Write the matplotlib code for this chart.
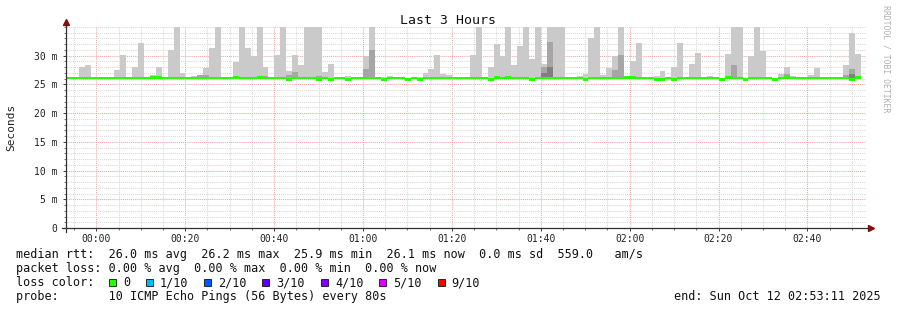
import numpy as np
import matplotlib.pyplot as plt
from matplotlib.patches import Rectangle
from matplotlib.ticker import MultipleLocator

plt.rcParams['font.family'] = ['DejaVu Sans Mono', 'DejaVu Sans']

# one step = 80 s, time in minutes from 00:00
step_min = 80 / 60
first_step = -6.6
t_start, t_end = -6.8167, 173.1833

# top of the light smoke (ms), one value per step
smoke_top = [
    26.1, 26.3, 28.1, 28.3, 26.1, 26.2, 26.2, 26.1, 27.5, 30.2,
    26.1, 28.1, 32.3, 26.1, 26.6, 28.1, 26.2, 31.0, 35.0, 27.0,
    26.2, 26.4, 26.7, 27.8, 31.3, 35.0, 26.1, 26.2, 28.9, 35.0,
    31.4, 29.9, 35.0, 28.1, 26.1, 30.1, 35.0, 27.4, 30.1, 28.3,
    35.0, 35.0, 35.0, 27.1, 28.5, 26.1, 26.1, 26.5, 26.1, 26.2,
    29.9, 35.0, 26.1, 26.3, 26.5, 26.1, 26.1, 26.2, 26.3, 26.3,
    27.0, 27.6, 30.2, 26.9, 26.7, 26.3, 26.3, 26.1, 30.2, 35.0,
    26.2, 28.0, 32.1, 29.9, 35.0, 28.3, 31.7, 35.0, 29.5, 35.0,
    28.6, 35.0, 35.0, 35.0, 26.1, 26.1, 26.5, 26.9, 33.1, 35.0,
    26.7, 27.8, 29.9, 35.0, 26.2, 29.1, 32.3, 26.1, 26.1, 26.5,
    27.4, 26.1, 28.1, 32.3, 26.1, 28.5, 30.5, 26.1, 26.4, 26.1,
    26.1, 30.3, 35.0, 35.0, 26.1, 29.9, 35.0, 30.9, 26.2, 26.1,
    26.9, 28.1, 26.5, 26.1, 26.1, 26.7, 27.8, 26.1, 26.1, 26.1,
    26.3, 28.3, 33.9, 30.3,
]

# median rtt (ms), one value per step
median_rtt = [
    26.1, 26.1, 26.1, 26.1, 26.1, 26.1, 26.1, 26.1, 26.1, 26.1,
    26.1, 26.1, 26.1, 26.1, 26.2, 26.2, 26.1, 26.1, 26.1, 26.1,
    26.1, 26.1, 26.1, 26.1, 26.1, 26.1, 26.1, 26.1, 26.2, 26.1,
    26.1, 26.1, 26.2, 26.1, 26.1, 26.1, 26.1, 25.9, 26.1, 26.1,
    26.1, 26.1, 25.9, 26.1, 25.9, 26.1, 26.1, 25.9, 26.1, 26.1,
    26.1, 26.1, 26.1, 25.9, 26.1, 26.1, 26.1, 25.9, 26.1, 25.9,
    26.1, 26.1, 26.1, 26.1, 26.1, 26.1, 26.1, 26.1, 26.1, 26.1,
    26.1, 25.9, 26.2, 26.1, 26.2, 26.1, 26.1, 26.1, 25.9, 26.1,
    26.1, 26.1, 26.1, 26.1, 26.1, 26.1, 26.1, 25.9, 26.1, 26.1,
    26.1, 26.1, 26.1, 26.1, 26.2, 26.2, 26.1, 26.1, 26.1, 25.9,
    25.9, 26.1, 25.9, 26.1, 26.1, 26.1, 26.1, 26.1, 26.1, 26.1,
    25.9, 26.2, 26.1, 26.1, 25.9, 26.1, 26.1, 26.1, 26.1, 25.9,
    26.1, 26.2, 26.1, 26.1, 26.1, 26.1, 26.1, 26.1, 26.1, 26.1,
    26.1, 26.1, 25.9, 26.2,
]

# darker smoke (more pings up there)
mid_steps = [22, 23, 33, 37, 38, 42, 50, 51, 80, 81, 92, 93, 112, 121, 131, 132]
mid_tops = [26.6, 26.6, 26.5, 26.6, 27.2, 26.4, 27.7, 31.0, 28.0, 32.4, 27.5, 30.1, 28.4, 26.9, 26.6, 27.6]
dark_steps = [80, 81, 132]
dark_tops = [27.0, 28.1, 26.8]

x_ticks = [0, 20, 40, 60, 80, 100, 120, 140, 160]
x_labels = ['00:00', '00:20', '00:40', '01:00', '01:20', '01:40', '02:00', '02:20', '02:40']
y_ticks = [0, 5, 10, 15, 20, 25, 30]
y_labels = ['0', '5 m', '10 m', '15 m', '20 m', '25 m', '30 m']

loss_labels = ['0', '1/10', '2/10', '3/10', '4/10', '5/10', '9/10']
loss_colors = ['#26ff00', '#00b8ff', '#0059ff', '#5e00ff', '#7e00ff', '#dd00ff', '#ff0000']

W, H = 897, 310
fig = plt.figure(figsize=(W / 100, H / 100), dpi=100)
fig.patch.set_facecolor('white')
ax = fig.add_axes([66 / W, 82 / H, 800 / W, 201 / H])

n = len(smoke_top)
edges = first_step + step_min * np.arange(n + 1)
top = np.append(smoke_top, smoke_top[-1])
med = np.append(median_rtt, median_rtt[-1])

# smoke
ax.fill_between(edges, med, top, step='post', color='#cacaca', linewidth=0, zorder=2)
for i, v in zip(mid_steps, mid_tops):
    ax.bar(edges[i], v - median_rtt[i], bottom=median_rtt[i], width=step_min,
           align='edge', color='#a6a6a6', linewidth=0, zorder=3)
for i, v in zip(dark_steps, dark_tops):
    ax.bar(edges[i], v - median_rtt[i], bottom=median_rtt[i], width=step_min,
           align='edge', color='#808080', linewidth=0, zorder=4)

# median line, coloured by loss (all 0 here)
ax.fill_between(edges, med - 0.22, med + 0.22, step='post', color=loss_colors[0],
                linewidth=0, zorder=5)

ax.set_xlim(t_start, t_end)
ax.set_ylim(0, 35)
ax.set_xticks(x_ticks, x_labels)
ax.set_yticks(y_ticks, y_labels)
ax.xaxis.set_minor_locator(MultipleLocator(5))
ax.yaxis.set_minor_locator(MultipleLocator(1))
ax.tick_params(which='major', length=2.2, width=0.7, color='#404040',
               labelsize=7, labelcolor='#222222')
ax.tick_params(axis='x', which='major', pad=2)
ax.tick_params(axis='y', which='major', pad=4)
ax.tick_params(which='minor', length=1.2, width=0.6, color='#606060')

ax.set_axisbelow(True)
ax.grid(which='minor', color='#d8d8d8', linestyle=(0, (1, 1)), linewidth=0.75)
ax.grid(which='major', color='#f2a4a4', linestyle=(0, (1, 1)), linewidth=0.75)
for s in ax.spines.values():
    s.set_visible(False)

# axes with arrows
ax.plot([-4 / 800, 1 + 3 / 800], [0, 0], transform=ax.transAxes, color='#303030',
        lw=0.9, clip_on=False, zorder=6)
ax.plot([0, 0], [-4 / 201, 1 + 4 / 201], transform=ax.transAxes, color='#303030',
        lw=0.9, clip_on=False, zorder=6)
ax.plot([0], [1 + 5 / 201], marker='^', ms=5, color='#7a1010', transform=ax.transAxes,
        clip_on=False, zorder=7)
ax.plot([1 + 5 / 800], [0], marker='>', ms=5, color='#7a1010', transform=ax.transAxes,
        clip_on=False, zorder=7)


def fx(x):
    return x / W


def fy(y):
    return 1 - y / H


fig.text(fx(448), fy(20), 'Last 3 Hours', ha='center', va='center', fontsize=9.5, color='#111111')
fig.text(fx(11), fy(127), 'Seconds', ha='center', va='center', rotation=90, fontsize=8, color='#222222')
fig.text(fx(886), fy(59), 'RRDTOOL / TOBI OETIKER', ha='center', va='center', rotation=-90,
         fontsize=5.9, color='#b0b0b0')

fs = 8.5
cw = 7.12
fig.text(fx(16), fy(254.3), 'median rtt:  26.0 ms avg  26.2 ms max  25.9 ms min  26.1 ms now  0.0 ms sd  559.0   am/s',
         va='center', fontsize=fs, color='#111111')
fig.text(fx(16), fy(268.3), 'packet loss: 0.00 % avg  0.00 % max  0.00 % min  0.00 % now',
         va='center', fontsize=fs, color='#111111')
fig.text(fx(16), fy(282.6), 'loss color:', va='center', fontsize=fs, color='#111111')
fig.text(fx(16), fy(296.7), 'probe:       10 ICMP Echo Pings (56 Bytes) every 80s',
         va='center', fontsize=fs, color='#111111')
fig.text(fx(881), fy(296.7), 'end: Sun Oct 12 02:53:11 2025', ha='right',
         va='center', fontsize=fs, color='#111111')

bx = 16 + 13 * cw
for lab, col in zip(loss_labels, loss_colors):
    fig.add_artist(Rectangle((fx(bx), fy(286.3)), 7 / W, 7 / H, transform=fig.transFigure,
                             facecolor=col, edgecolor='#111111', linewidth=0.6))
    lx = bx + 2 * cw
    fig.text(fx(lx), fy(282.6), lab, va='center', fontsize=fs, color='#111111')
    bx = lx + (len(lab) + 2.2) * cw

fig.savefig('out.png', dpi=100)
